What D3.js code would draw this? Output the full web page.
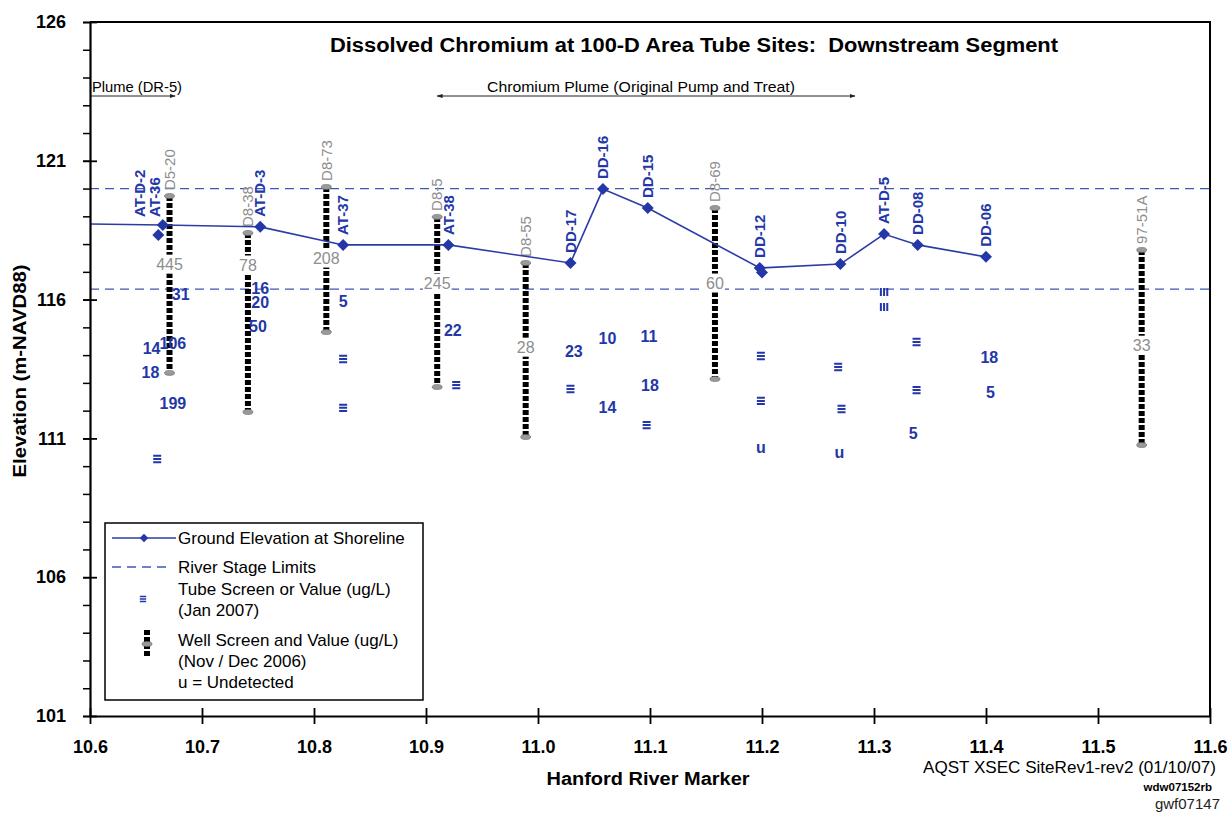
<!DOCTYPE html>
<html>
<head>
<meta charset="utf-8">
<script src="https://cdn.jsdelivr.net/npm/d3@7"></script>
<style>
  body { margin: 0; background: #fff; }
  svg { font-family: "Liberation Sans", Arial, sans-serif; }
</style>
</head>
<body>
<svg id="chart" width="1230" height="813"></svg>
<script>
// ground elevation at shoreline (first point lies left of the axis and gets clipped)
var groundX = [10.55, 10.665, 10.752, 10.826, 10.92, 11.029, 11.058, 11.098, 11.198, 11.27, 11.309, 11.339, 11.4];
var groundY = [118.75, 118.69, 118.62, 117.97, 117.97, 117.32, 119.98, 119.3, 117.14, 117.28, 118.36, 117.97, 117.54];
var groundName = ["", "AT-36", "AT-D-3", "AT-37", "AT-38", "DD-17", "DD-16", "DD-15", "DD-12", "DD-10", "AT-D-5", "DD-08", "DD-06"];

// extra ground markers not on the line
var extraX = [10.661, 11.2];
var extraY = [118.33, 116.98];
var extraName = ["AT-D-2", ""];

// river stage limits
var riverStage = [120.0, 116.38];

// wells (Nov / Dec 2006)
var wellName = ["D5-20", "D8-38", "D8-73", "D8-5", "D8-55", "D8-69", "97-51A"];
var wellX = [10.671, 10.741, 10.811, 10.91, 10.989, 11.158, 11.539];
var wellTop = [119.73, 118.4, 120.06, 118.98, 117.32, 119.3, 117.79];
var wellBottom = [113.36, 111.95, 114.83, 112.85, 111.05, 113.14, 110.76];
var wellValue = ["445", "78", "208", "245", "28", "60", "33"];
var wellValueY = [117.28, 117.25, 117.5, 116.6, 114.29, 116.6, 114.36];

// tube screens / values (Jan 2007)
var tubeX = [10.681, 10.655, 10.674, 10.654, 10.674, 10.66,
             10.752, 10.752, 10.75,
             10.826, 10.826, 10.826,
             10.924, 10.927,
             11.032, 11.029,
             11.062, 11.062,
             11.099, 11.1, 11.097,
             11.199, 11.199, 11.199,
             11.268, 11.271, 11.269,
             11.338, 11.338, 11.335,
             11.403, 11.404];
var tubeY = [116.2, 114.26, 114.44, 113.39, 112.27, 110.26,
             116.42, 115.91, 115.05,
             115.95, 113.86, 112.1,
             114.9, 112.92,
             114.15, 112.78,
             114.62, 112.13,
             114.69, 112.92, 111.48,
             113.97, 112.35, 110.69,
             113.57, 112.06, 110.51,
             114.47, 112.74, 111.19,
             113.9, 112.67];
var tubeText = ["31", "14", "106", "18", "199", "\u2261",
                "16", "20", "50",
                "5", "\u2261", "\u2261",
                "22", "\u2261",
                "23", "\u2261",
                "10", "14",
                "11", "18", "\u2261",
                "\u2261", "\u2261", "u",
                "\u2261", "\u2261", "u",
                "\u2261", "\u2261", "5",
                "18", "5"];
// screens drawn on their side
var tubeVertX = [11.309, 11.309];
var tubeVertY = [116.27, 115.73];

// plume annotations
var annoText = ["Plume (DR-5)", "Chromium Plume (Original Pump and Treat)"];
var annoFrom = [10.6, 10.91];
var annoTo = [10.676, 11.283];
var annoBoth = [false, true];

var xTicks = [10.6, 10.7, 10.8, 10.9, 11.0, 11.1, 11.2, 11.3, 11.4, 11.5, 11.6];
var yTicks = [101, 106, 111, 116, 121, 126];

var svg = d3.select("#chart"),
    margin = {top: 22, right: 20, bottom: 97, left: 90},
    width = +svg.attr("width") - margin.left - margin.right,
    height = +svg.attr("height") - margin.top - margin.bottom;

var blue = "#2337a8", lineBlue = "#2c3ca6", gray = "#8e8e8e";

var x = d3.scaleLinear().domain([10.6, 11.6]).range([margin.left, margin.left + width]);
var y = d3.scaleLinear().domain([101, 126]).range([margin.top + height, margin.top]);

// three-bar screen symbol
var screenType = {
  draw: function(context, size) {
    var w = Math.sqrt(size), h = w * 0.25, g = w * 0.4;
    for (var k = -1; k <= 1; k++) context.rect(-w / 2, k * g - h / 2, w, h);
  }
};
var screen = d3.symbol().type(screenType);
var diamond = d3.symbol().type(d3.symbolSquare);

var defs = svg.append("defs");
defs.append("clipPath").attr("id", "plot")
  .append("rect")
    .attr("x", margin.left).attr("y", margin.top)
    .attr("width", width).attr("height", height);
defs.append("marker").attr("id", "arr").attr("viewBox", "0 0 10 10")
    .attr("refX", 9).attr("refY", 5).attr("markerWidth", 6).attr("markerHeight", 6)
    .attr("orient", "auto-start-reverse")
  .append("path").attr("d", "M0,1.5L10,5L0,8.5Z").attr("fill", "#222");

// river stage limits
svg.append("g").selectAll("line")
  .data(riverStage)
  .enter().append("line")
    .attr("x1", margin.left).attr("x2", margin.left + width)
    .attr("y1", function(d) { return y(d); })
    .attr("y2", function(d) { return y(d); })
    .attr("stroke", "#4257b5").attr("stroke-width", 1.3)
    .attr("stroke-dasharray", "9,6");

// wells
var wells = svg.append("g");
wellName.forEach(function(n, i) {
  var wx = x(wellX[i]);
  wells.append("line")
      .attr("x1", wx).attr("x2", wx)
      .attr("y1", y(wellTop[i])).attr("y2", y(wellBottom[i]))
      .attr("stroke", "#000").attr("stroke-width", 6)
      .attr("stroke-dasharray", "5,2");
  [wellTop[i], wellBottom[i]].forEach(function(v) {
    wells.append("ellipse")
        .attr("cx", wx).attr("cy", y(v))
        .attr("rx", 5).attr("ry", 2.5)
        .attr("fill", "#9a9a9a").attr("stroke", "#666").attr("stroke-width", 0.6);
  });
  wells.append("text")
      .attr("transform", "translate(" + wx + "," + (y(wellTop[i]) - 6) + ") rotate(-90)")
      .attr("dy", "0.35em")
      .attr("font-size", 15)
      .attr("fill", gray)
      .text(n);
  var t = wells.append("text")
      .attr("x", wx).attr("y", y(wellValueY[i]))
      .attr("dy", "0.35em")
      .attr("text-anchor", "middle")
      .attr("font-size", 16)
      .attr("fill", gray)
      .text(wellValue[i]);
  var b = t.node().getBBox();
  wells.insert("rect", function() { return t.node(); })
      .attr("x", b.x - 1).attr("y", b.y - 1)
      .attr("width", b.width + 2).attr("height", b.height + 2)
      .attr("fill", "#fff");
});

// ground elevation line
var pts = groundX.map(function(d, i) { return [d, groundY[i]]; });
var gl = svg.append("g").attr("clip-path", "url(#plot)");
gl.append("path")
    .datum(pts)
    .attr("fill", "none")
    .attr("stroke", lineBlue)
    .attr("stroke-width", 1.6)
    .attr("d", d3.line().x(function(d) { return x(d[0]); }).y(function(d) { return y(d[1]); }));

var allMarks = pts.concat(extraX.map(function(d, i) { return [d, extraY[i]]; }));
gl.selectAll(".mk")
  .data(allMarks)
  .enter().append("path")
    .attr("class", "mk")
    .attr("transform", function(d) { return "translate(" + x(d[0]) + "," + y(d[1]) + ") rotate(45)"; })
    .attr("d", diamond.size(72))
    .attr("fill", blue);

// site labels (two crowded ones nudged)
var labelNudge = {"AT-D-2": [-19, 18], "AT-36": [-8, 8]};
var labels = groundName.map(function(n, i) { return {n: n, x: groundX[i], y: groundY[i]}; })
  .concat(extraName.map(function(n, i) { return {n: n, x: extraX[i], y: extraY[i]}; }))
  .filter(function(d) { return d.n !== ""; });
svg.append("g").selectAll("text")
  .data(labels)
  .enter().append("text")
    .attr("transform", function(d) {
      var nd = labelNudge[d.n] || [0, 10];
      return "translate(" + (x(d.x) + nd[0]) + "," + (y(d.y) - nd[1]) + ") rotate(-90)";
    })
    .attr("dy", "0.35em")
    .attr("font-size", 15)
    .attr("font-weight", "bold")
    .attr("fill", blue)
    .text(function(d) { return d.n; });

// tube values and screens
var tubes = tubeText.map(function(t, i) { return {t: t, x: tubeX[i], y: tubeY[i]}; });
var tg = svg.append("g");
tg.selectAll("text")
  .data(tubes.filter(function(d) { return d.t !== "\u2261"; }))
  .enter().append("text")
    .attr("x", function(d) { return x(d.x); })
    .attr("y", function(d) { return y(d.y); })
    .attr("dy", "0.35em")
    .attr("text-anchor", "middle")
    .attr("font-size", 16)
    .attr("font-weight", "bold")
    .attr("fill", blue)
    .text(function(d) { return d.t; });
tg.selectAll(".scr")
  .data(tubes.filter(function(d) { return d.t === "\u2261"; }))
  .enter().append("path")
    .attr("class", "scr")
    .attr("transform", function(d) { return "translate(" + x(d.x) + "," + y(d.y) + ")"; })
    .attr("d", screen.size(64))
    .attr("fill", blue);
tg.selectAll(".scrv")
  .data(tubeVertX)
  .enter().append("path")
    .attr("class", "scrv")
    .attr("transform", function(d, i) { return "translate(" + x(d) + "," + y(tubeVertY[i]) + ") rotate(90)"; })
    .attr("d", screen.size(64))
    .attr("fill", blue);

// plume annotations
var anno = svg.append("g");
annoText.forEach(function(t, i) {
  var x0 = x(annoFrom[i]), x1 = x(annoTo[i]);
  anno.append("line")
      .attr("x1", x0).attr("x2", x1).attr("y1", 96).attr("y2", 96)
      .attr("stroke", "#222").attr("stroke-width", 1)
      .attr("marker-end", "url(#arr)")
      .attr("marker-start", annoBoth[i] ? "url(#arr)" : null);
});
anno.append("text")
    .attr("x", 92).attr("y", 92)
    .attr("font-family", "'Liberation Sans Narrow', 'Arial Narrow', sans-serif")
    .attr("font-size", 14)
    .attr("textLength", 90).attr("lengthAdjust", "spacingAndGlyphs")
    .text(annoText[0]);
anno.append("text")
    .attr("x", 487).attr("y", 92)
    .attr("font-family", "'Liberation Sans Narrow', 'Arial Narrow', sans-serif")
    .attr("font-size", 14)
    .attr("textLength", 308).attr("lengthAdjust", "spacingAndGlyphs")
    .text(annoText[1]);

// title
svg.append("text")
    .attr("x", 694).attr("y", 52)
    .attr("text-anchor", "middle")
    .attr("font-size", 20)
    .attr("font-weight", "bold")
    .attr("textLength", 728).attr("lengthAdjust", "spacingAndGlyphs")
    .text("Dissolved Chromium at 100-D Area Tube Sites:\u00a0 Downstream Segment");

// frame
svg.append("path")
    .attr("d", "M" + margin.left + "," + margin.top + "H" + (margin.left + width) + "V" + (margin.top + height))
    .attr("fill", "none").attr("stroke", "#000").attr("stroke-width", 2);

// y axis: minor ticks then labelled major ticks
svg.append("g")
    .attr("transform", "translate(" + margin.left + ",0)")
    .call(d3.axisLeft(y).tickValues(d3.range(101, 127)).tickSize(7).tickFormat(""))
    .call(function(g) { g.select(".domain").remove(); })
    .selectAll("line").attr("stroke-width", 1.5);

var yAxis = svg.append("g")
    .attr("transform", "translate(" + margin.left + ",0)")
    .call(d3.axisLeft(y).tickValues(yTicks).tickSizeOuter(0).tickPadding(18).tickFormat(d3.format("d")));
yAxis.select(".domain").attr("stroke-width", 2.2);
yAxis.selectAll(".tick line").attr("x1", 7).attr("x2", -7).attr("stroke-width", 1.8);
yAxis.selectAll(".tick text").attr("font-size", 18).attr("font-weight", "bold")
    .attr("font-family", "'Liberation Sans', Arial, sans-serif").attr("fill", "#000");

var xAxis = svg.append("g")
    .attr("transform", "translate(0," + (margin.top + height) + ")")
    .call(d3.axisBottom(x).tickValues(xTicks).tickSizeOuter(0).tickFormat(d3.format(".1f")));
xAxis.select(".domain").attr("stroke-width", 2.2);
xAxis.selectAll(".tick line").attr("y1", -8).attr("y2", 8).attr("stroke-width", 1.8);
xAxis.selectAll(".tick text").attr("y", 24).attr("font-size", 18).attr("font-weight", "bold")
    .attr("font-family", "'Liberation Sans', Arial, sans-serif").attr("fill", "#000");

// axis titles
svg.append("text")
    .attr("transform", "translate(20," + 371 + ") rotate(-90)")
    .attr("dy", "0.35em")
    .attr("text-anchor", "middle")
    .attr("font-size", 18).attr("font-weight", "bold")
    .attr("textLength", 213).attr("lengthAdjust", "spacingAndGlyphs")
    .text("Elevation (m-NAVD88)");
svg.append("text")
    .attr("x", 648).attr("y", 785)
    .attr("text-anchor", "middle")
    .attr("font-size", 18).attr("font-weight", "bold")
    .attr("textLength", 203).attr("lengthAdjust", "spacingAndGlyphs")
    .text("Hanford River Marker");

// footer notes
svg.append("text").attr("x", 1216).attr("y", 773).attr("text-anchor", "end")
    .attr("font-size", 16.5).attr("textLength", 293).attr("lengthAdjust", "spacingAndGlyphs")
    .text("AQST XSEC SiteRev1-rev2 (01/10/07)");
svg.append("text").attr("x", 1212).attr("y", 791).attr("text-anchor", "end")
    .attr("font-size", 11.5).attr("font-weight", "bold").text("wdw07152rb");
svg.append("text").attr("x", 1220).attr("y", 809).attr("text-anchor", "end")
    .attr("font-size", 15).attr("fill", "#222").text("gwf07147");

// legend
var lg = svg.append("g").attr("font-size", 17);
lg.append("rect")
    .attr("x", 105).attr("y", 523).attr("width", 318).attr("height", 177)
    .attr("fill", "#fff").attr("stroke", "#000").attr("stroke-width", 1.5);
lg.append("line").attr("x1", 112).attr("x2", 176).attr("y1", 538).attr("y2", 538)
    .attr("stroke", lineBlue).attr("stroke-width", 1.6);
lg.append("path").attr("transform", "translate(144,538) rotate(45)").attr("d", diamond.size(36)).attr("fill", blue);
lg.append("text").attr("x", 178).attr("y", 538).attr("dy", "0.35em").text("Ground Elevation at Shoreline");
lg.append("line").attr("x1", 112).attr("x2", 168).attr("y1", 567).attr("y2", 567)
    .attr("stroke", "#4257b5").attr("stroke-width", 1.3).attr("stroke-dasharray", "9,6");
lg.append("text").attr("x", 178).attr("y", 567).attr("dy", "0.35em").text("River Stage Limits");
lg.append("path").attr("transform", "translate(143,599)").attr("d", screen.size(40)).attr("fill", blue);
lg.append("text").attr("x", 178).attr("y", 589).attr("dy", "0.35em").text("Tube Screen or Value (ug/L)");
lg.append("text").attr("x", 178).attr("y", 610).attr("dy", "0.35em").text("(Jan 2007)");
lg.append("line").attr("x1", 147).attr("x2", 147).attr("y1", 630).attr("y2", 658)
    .attr("stroke", "#000").attr("stroke-width", 6).attr("stroke-dasharray", "5,2");
lg.append("ellipse").attr("cx", 147).attr("cy", 644).attr("rx", 5).attr("ry", 2.5)
    .attr("fill", "#9a9a9a").attr("stroke", "#666").attr("stroke-width", 0.6);
lg.append("text").attr("x", 178).attr("y", 640).attr("dy", "0.35em").text("Well Screen and Value (ug/L)");
lg.append("text").attr("x", 178).attr("y", 661).attr("dy", "0.35em").text("(Nov / Dec 2006)");
lg.append("text").attr("x", 178).attr("y", 682).attr("dy", "0.35em").text("u = Undetected");
</script>
</body>
</html>
